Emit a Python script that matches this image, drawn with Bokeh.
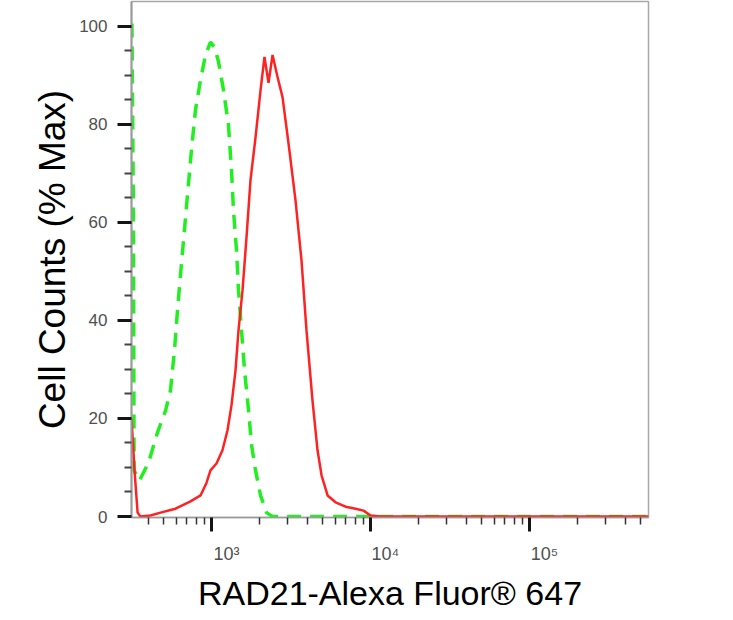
from bokeh.plotting import figure
from bokeh.models import (Range1d, FixedTicker, LogAxis, CustomJSTickFormatter,
                          CustomLabelingPolicy)
from bokeh.embed import file_html
from bokeh.resources import INLINE

# ---- data ----
green_x = [316, 323, 326, 352, 402, 457, 514, 552, 585, 611, 638, 667, 706, 748,
           793, 853, 917, 985, 1044, 1107, 1190, 1279, 1336, 1375, 1436, 1479,
           1544, 1614, 1710, 1787, 1892, 2034, 2218, 2421, 5000, 20000, 100000, 560000]
green_y = [100.5, 60, 9.4, 7.3, 11.0, 17.1, 21.6, 25.7, 33.9, 42.0, 49.2, 56.3, 65.5, 74.7,
           82.9, 89.0, 94.1, 96.7, 95.7, 92.7, 86.9, 79.8, 70.6, 62.4, 54.3, 46.1,
           38.0, 29.8, 21.6, 14.5, 9.4, 4.3, 0.8, 0, 0, 0, 0, 0]

red_x = [314, 328, 343, 357, 413, 478, 594, 738, 853, 931, 985, 1075, 1172, 1261,
         1336, 1416, 1479, 1567, 1660, 1759, 1892, 2034, 2154, 2283, 2421, 2602,
         2797, 3050, 3374, 3682, 3956, 4316, 4643, 4921, 5370, 6029, 6968, 8054,
         9042, 10000, 11560, 30000, 100000, 560000]
red_y = [20.0, 9.4, 0.8, 0, 0.2, 0.8, 1.6, 3.1, 4.3, 6.9, 9.4, 10.8, 13.5, 17.6,
         22.7, 29.8, 38.0, 46.1, 56.9, 68.6, 77.3, 86.9, 93.7, 88.4, 94.1, 89.6,
         85.5, 76.1, 64.5, 52.2, 38.0, 23.7, 13.5, 8.4, 4.3, 2.9, 2.0, 1.6,
         1.2, 0.2, 0, 0, 0, 0]

x_major = [1e3, 1e4, 1e5]
x_labels = ["10³", "10⁴", "10⁵"]
x_minor = [400, 500, 600, 700, 800, 900,
           2000, 3000, 4000, 5000, 6000, 7000, 8000, 9000,
           20000, 30000, 40000, 50000, 60000, 70000, 80000, 90000,
           200000, 300000, 400000, 500000]
y_major = [0, 20, 40, 60, 80, 100]
y_minor = [5, 10, 15, 25, 30, 35, 45, 50, 55, 65, 70, 75, 85, 90, 95]

x_title = "RAD21-Alexa Fluor® 647"
y_title = "Cell Counts (% Max)"

FONT = "Liberation Sans"

p = figure(width=733, height=620, x_axis_type="log",
           x_range=Range1d(314, 5.6e5), y_range=Range1d(-0.2, 105.0),
           output_backend="svg", toolbar_location=None,
           min_border_left=131, min_border_right=85,
           min_border_top=1, min_border_bottom=103)
p.grid.visible = False
p.outline_line_color = "#a8a8a8"
p.outline_line_width = 1.5
p.background_fill_color = "white"
p.border_fill_color = "white"

p.line(green_x, green_y, line_color="#22ee22", line_width=3.5, line_dash="14 9")
p.line(red_x, red_y, line_color="#ff2222", line_width=2.5)

# y axis
ay = p.yaxis[0]
ay.ticker = FixedTicker(ticks=y_major, minor_ticks=y_minor)
ay.axis_line_color = "#9a9a9a"
ay.axis_line_width = 2
ay.major_tick_out = 14
ay.major_tick_in = 0
ay.major_tick_line_width = 3
ay.major_tick_line_color = "#151515"
ay.minor_tick_out = 7
ay.minor_tick_in = 0
ay.minor_tick_line_width = 2
ay.minor_tick_line_color = "#454545"
ay.major_label_standoff = 10
ay.major_label_text_font = FONT
ay.major_label_text_font_size = "17px"
ay.major_label_text_color = "#505050"
ay.axis_label = y_title
ay.axis_label_text_font = FONT
ay.axis_label_text_font_size = "37px"
ay.axis_label_text_font_style = "normal"
ay.axis_label_text_color = "black"
ay.axis_label_standoff = 3

# x axis: ticks only (its own labels are not drawn)
ax = p.xaxis[0]
ax.ticker = FixedTicker(ticks=x_major, minor_ticks=x_minor)
ax.axis_line_color = "#9a9a9a"
ax.axis_line_width = 1.5
ax.major_tick_out = 14
ax.major_tick_in = 0
ax.major_tick_line_width = 3
ax.major_tick_line_color = "#151515"
ax.minor_tick_out = 7
ax.minor_tick_in = 0
ax.minor_tick_line_width = 1.5
ax.minor_tick_line_color = "#333333"
ax.major_label_text_font_size = "1px"
ax.major_label_standoff = 0
ax.major_label_policy = CustomLabelingPolicy(
    code="const all = [...indices]; for (const i of all) indices.unset(i); return indices")

# x axis: labels (set slightly right of ticks as in the reference)
label_pos = [t * 10 ** 0.094 for t in x_major]
ax2 = LogAxis(ticker=FixedTicker(ticks=label_pos, minor_ticks=[]),
              formatter=CustomJSTickFormatter(args=dict(labels=x_labels),
                                              code="return labels[index]"),
              axis_line_color=None, major_tick_line_color=None,
              minor_tick_line_color=None,
              major_label_standoff=1,
              major_label_text_font=FONT,
              major_label_text_font_size="18px",
              major_label_text_color="#505050",
              axis_label=x_title,
              axis_label_text_font=FONT,
              axis_label_text_font_size="34px",
              axis_label_text_font_style="normal",
              axis_label_text_color="black",
              axis_label_standoff=7)
p.add_layout(ax2, "below")

open("out.html", "w").write(file_html(p, INLINE))
